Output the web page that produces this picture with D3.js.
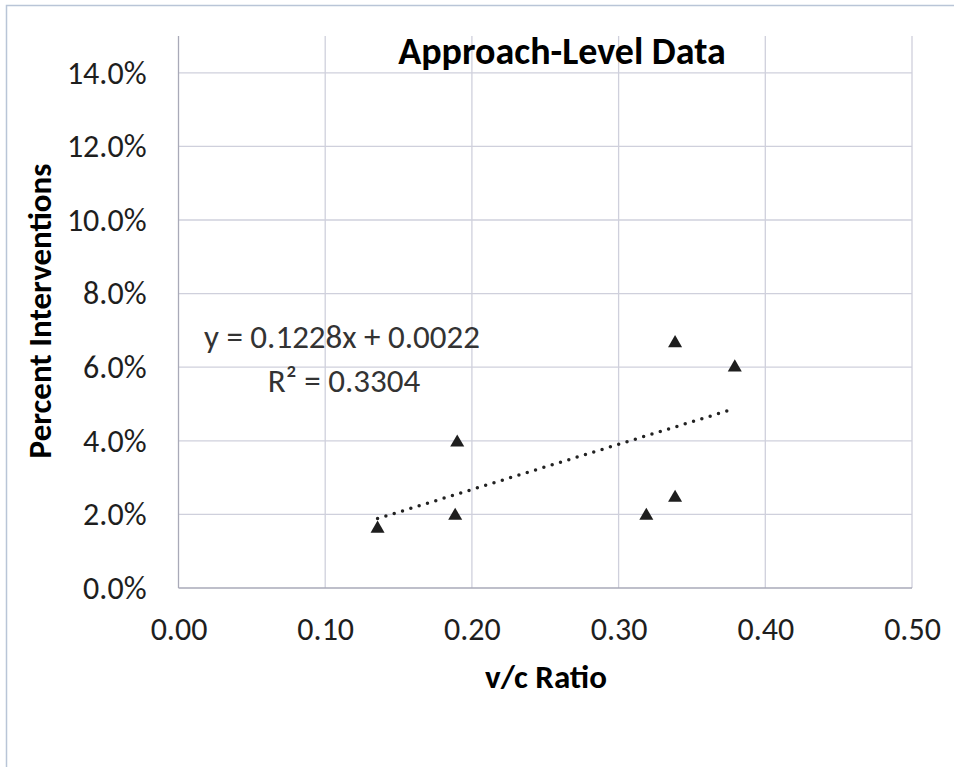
<!DOCTYPE html>
<html><head><meta charset="utf-8">
<script src="https://cdn.jsdelivr.net/npm/d3@7"></script>
<style>body{margin:0;background:#fff;}svg{display:block;}</style>
</head><body>
<svg id="c" width="954" height="767"></svg>
<script>
const vcRatio = [0.1357, 0.1886, 0.1900, 0.3189, 0.3385, 0.3385, 0.3792];
const pctInterventions = [0.0164, 0.0199, 0.0398, 0.0199, 0.0248, 0.0668, 0.0602];
const xTicks = [0, 0.1, 0.2, 0.3, 0.4, 0.5];
const yTicks = [0, 0.02, 0.04, 0.06, 0.08, 0.10, 0.12, 0.14];
const trendSlope = [0.1228];
const trendIntercept = [0.0022];
const rSquared = [0.3304];
const titleText = "Approach-Level Data";
const xTitle = "v/c Ratio";
const yTitle = "Percent Interventions";

const FONT = "Carlito, Calibri, 'Open Sans', sans-serif";
const svg = d3.select("#c");
const L = 178.5, R = 912, T = 36, B = 588;
const x = d3.scaleLinear().domain([0, 0.5]).range([L, R]);
const y = d3.scaleLinear().domain([0, 0.15]).range([B, T]);

// outer border
svg.append("rect").attr("x", 6.5).attr("y", 5.5).attr("width", 1000).attr("height", 1000)
  .attr("fill", "#fff").attr("stroke", "#b9c5d7").attr("stroke-width", 1.5);

// gridlines
svg.append("g").selectAll("line").data(xTicks.slice(1)).join("line")
  .attr("x1", d => x(d)).attr("x2", d => x(d)).attr("y1", T).attr("y2", B)
  .attr("stroke", "#cfd0dc").attr("stroke-width", 1.3);
svg.append("g").selectAll("line").data(yTicks.slice(1)).join("line")
  .attr("x1", L).attr("x2", R).attr("y1", d => y(d)).attr("y2", d => y(d))
  .attr("stroke", "#cfd0dc").attr("stroke-width", 1.3);

// axes
const xAxis = svg.append("g").attr("transform", `translate(0,${B})`)
  .call(d3.axisBottom(x).tickValues(xTicks).tickFormat(d3.format(".2f")).tickSize(0).tickPadding(52));
const yAxis = svg.append("g").attr("transform", `translate(${L},0)`)
  .call(d3.axisLeft(y).tickValues(yTicks).tickFormat(d3.format(".1%")).tickSize(0).tickPadding(32));
[xAxis, yAxis].forEach(a => {
  a.select(".domain").attr("stroke", "#a9aab8").attr("stroke-width", 1.3);
  a.selectAll("text").attr("font-family", FONT).attr("font-size", 32).attr("fill", "#1e1e1e");
});
xAxis.selectAll("text").attr("dy", null);
xAxis.select(".domain").attr("d", `M${L},0H${R}`);
yAxis.select(".domain").attr("d", `M0,${B}V${T}`);

// trendline
const xs = d3.extent(vcRatio);
svg.append("line")
  .attr("x1", x(xs[0])).attr("y1", y(trendSlope[0] * xs[0] + trendIntercept[0]))
  .attr("x2", x(xs[1])).attr("y2", y(trendSlope[0] * xs[1] + trendIntercept[0]))
  .attr("stroke", "#222").attr("stroke-width", 3.5)
  .attr("stroke-linecap", "round").attr("stroke-dasharray", "0 8.7");

// points
const tri = d3.symbol().type(d3.symbolTriangle).size(85);
svg.append("g").selectAll("path").data(vcRatio).join("path")
  .attr("d", tri)
  .attr("transform", (d, i) => `translate(${x(d)},${y(pctInterventions[i]) + 1})`)
  .attr("fill", "#1e1e1e");

// equation
svg.append("text").attr("x", 342).attr("y", 348).attr("text-anchor", "middle")
  .attr("font-family", FONT).attr("font-size", 33).attr("fill", "#333")
  .text(`y = ${trendSlope[0]}x + ${trendIntercept[0].toFixed(4)}`);
svg.append("text").attr("x", 344).attr("y", 392).attr("text-anchor", "middle")
  .attr("font-family", FONT).attr("font-size", 33).attr("fill", "#333")
  .text(`R² = ${rSquared[0]}`);

// titles
svg.append("text").attr("x", 562).attr("y", 64).attr("text-anchor", "middle")
  .attr("font-family", FONT).attr("font-size", 38).attr("font-weight", "bold").attr("fill", "#000")
  .text(titleText);
svg.append("text").attr("x", 546).attr("y", 688).attr("text-anchor", "middle")
  .attr("font-family", FONT).attr("font-size", 33).attr("font-weight", "bold").attr("fill", "#000")
  .text(xTitle);
svg.append("text").attr("transform", "translate(51,311) rotate(-90)").attr("text-anchor", "middle")
  .attr("font-family", FONT).attr("font-size", 33).attr("font-weight", "bold").attr("fill", "#000")
  .text(yTitle);
</script>
</body></html>
